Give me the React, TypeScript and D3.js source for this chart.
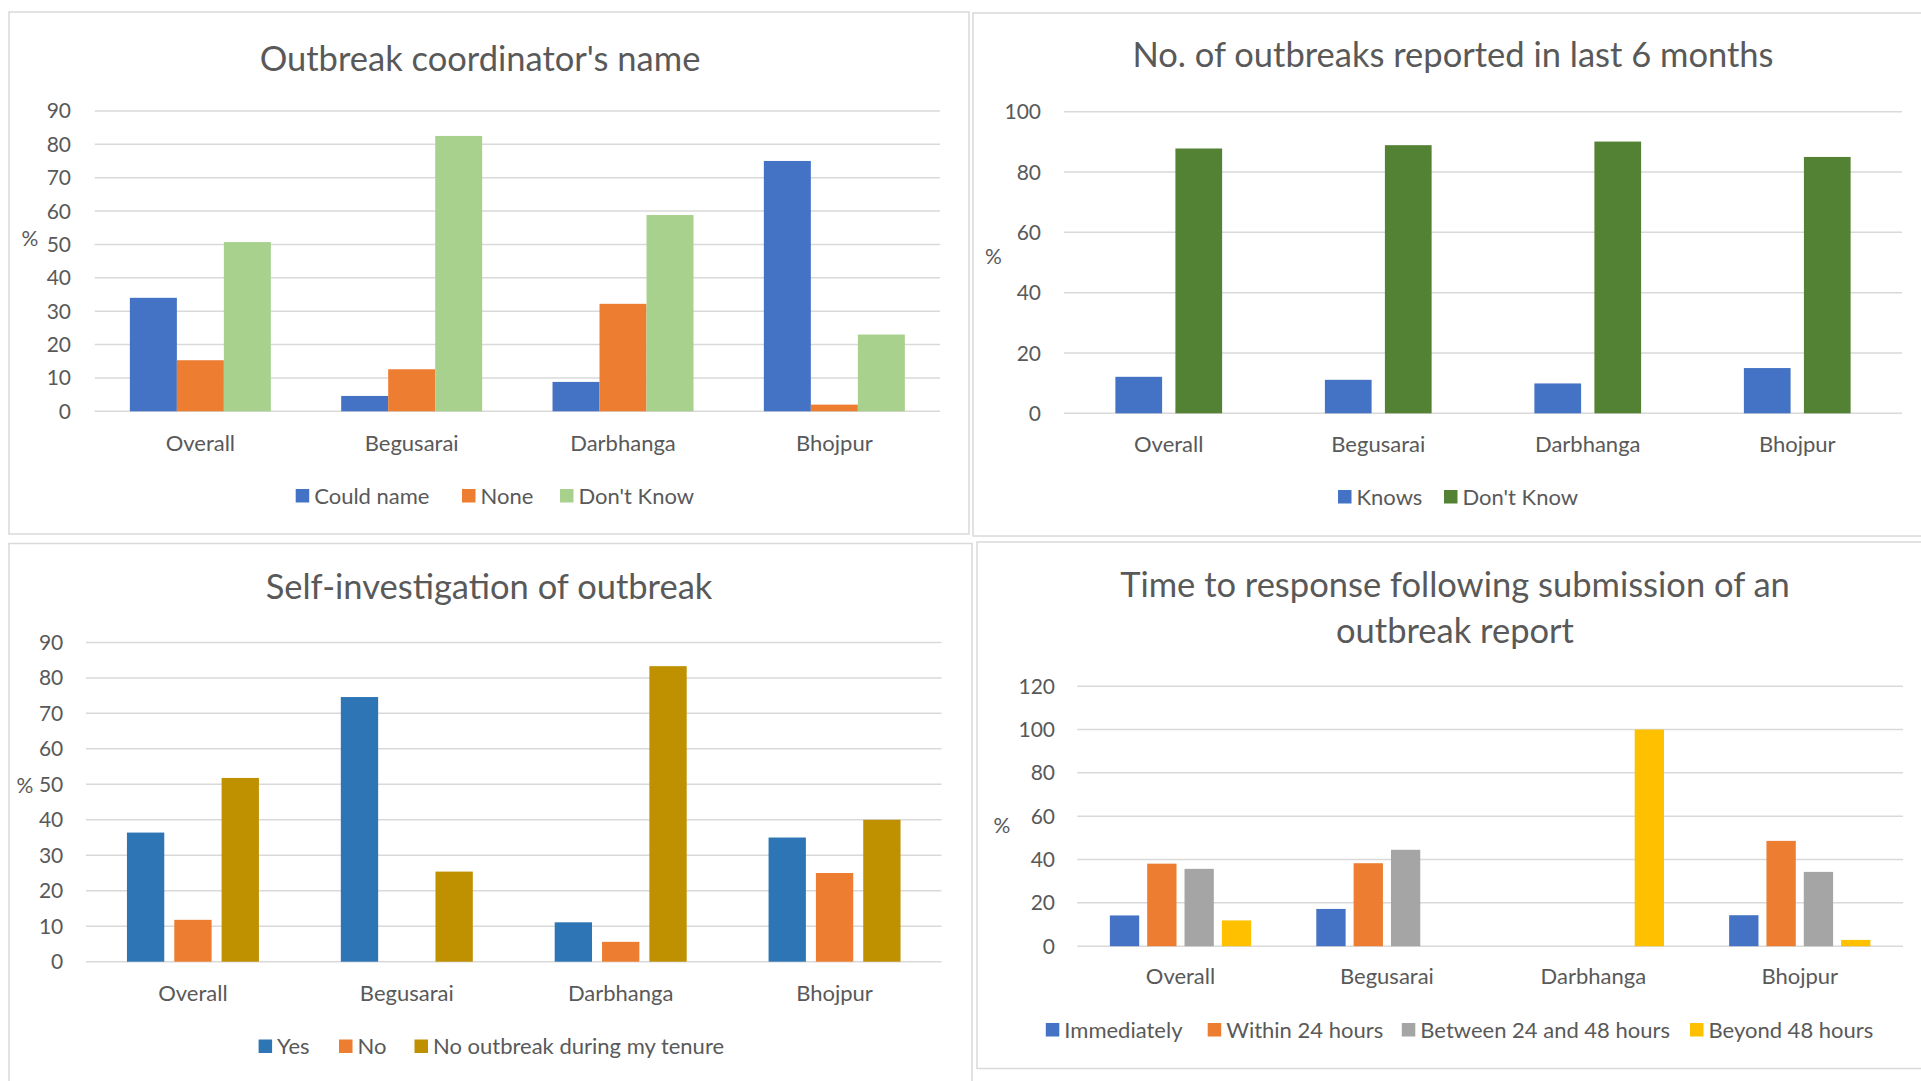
import React from "react";
import * as d3 from "d3";

// ---------- DATA ----------
const categories = ["Overall", "Begusarai", "Darbhanga", "Bhojpur"];

// Panel 1: Outbreak coordinator's name
const coordSeriesNames = ["Could name", "None", "Don't Know"];
const coordCouldName = [34, 4.6, 8.8, 75];
const coordNone = [15.3, 12.6, 32.2, 2];
const coordDontKnow = [50.7, 82.5, 58.8, 23];
const coordTicks = [0, 10, 20, 30, 40, 50, 60, 70, 80, 90];

// Panel 2: No. of outbreaks reported in last 6 months
const reportedSeriesNames = ["Knows", "Don't Know"];
const reportedKnows = [12.1, 11.1, 9.9, 15];
const reportedDontKnow = [87.8, 88.9, 90.1, 85];
const reportedTicks = [0, 20, 40, 60, 80, 100];

// Panel 3: Self-investigation of outbreak
const selfSeriesNames = ["Yes", "No", "No outbreak during my tenure"];
const selfYes = [36.4, 74.6, 11.1, 35];
const selfNo = [11.8, 0, 5.6, 25];
const selfNoOutbreak = [51.8, 25.4, 83.3, 40];
const selfTicks = [0, 10, 20, 30, 40, 50, 60, 70, 80, 90];

// Panel 4: Time to response following submission of an outbreak report
const responseSeriesNames = ["Immediately", "Within 24 hours", "Between 24 and 48 hours", "Beyond 48 hours"];
const respImmediately = [14.2, 17.2, 0, 14.3];
const respWithin24 = [38.1, 38.3, 0, 48.6];
const respBetween = [35.7, 44.5, 0, 34.3];
const respBeyond = [11.9, 0, 100, 2.9];
const responseTicks = [0, 20, 40, 60, 80, 100, 120];

// ---------- STYLE ----------
const FONT = "Lato, 'Open Sans', sans-serif";
const TEXT = "#595959";
const GRID = "#D9D9D9";
const BORDER = "#D9D9D9";

type PanelCfg = {
  border: { x: number; y: number; w: number; h: number };
  titleLines: string[];
  titleX: number;
  titleBaselines: number[];
  plot: { left: number; right: number; top: number; bottom: number };
  ticks: number[];
  tickRight: number;
  pct: { x: number; y: number };
  catBaseline: number;
  legendBaseline: number;
  legendX: number[];
  barFrac: number;
  gapFrac: number;
  names: string[];
  values: number[][];
  colors: string[];
};

const panels: PanelCfg[] = [
  {
    border: { x: 9, y: 12, w: 960, h: 522 },
    titleLines: ["Outbreak coordinator's name"],
    titleX: 480,
    titleBaselines: [70.5],
    plot: { left: 94.7, right: 940, top: 110.9, bottom: 411.3 },
    ticks: coordTicks,
    tickRight: 71,
    pct: { x: 30, y: 238.5 },
    catBaseline: 450.5,
    legendBaseline: 503.5,
    legendX: [295.7, 462, 560],
    barFrac: 0.2224,
    gapFrac: 0,
    names: coordSeriesNames,
    values: [coordCouldName, coordNone, coordDontKnow],
    colors: ["#4472C4", "#ED7D31", "#A9D18E"],
  },
  {
    border: { x: 973, y: 13, w: 962, h: 523 },
    titleLines: ["No. of outbreaks reported in last 6 months"],
    titleX: 1453,
    titleBaselines: [67.2],
    plot: { left: 1064, right: 1902, top: 111.7, bottom: 413.3 },
    ticks: reportedTicks,
    tickRight: 1041,
    pct: { x: 993.5, y: 256.7 },
    catBaseline: 452,
    legendBaseline: 504.5,
    legendX: [1338, 1444],
    barFrac: 0.223,
    gapFrac: 0.0635,
    names: reportedSeriesNames,
    values: [reportedKnows, reportedDontKnow],
    colors: ["#4472C4", "#548235"],
  },
  {
    border: { x: 9, y: 543.5, w: 963, h: 560 },
    titleLines: ["Self-investigation of outbreak"],
    titleX: 489,
    titleBaselines: [599.3],
    plot: { left: 86, right: 941.5, top: 642.4, bottom: 961.7 },
    ticks: selfTicks,
    tickRight: 63.3,
    pct: { x: 25, y: 785.7 },
    catBaseline: 1000.6,
    legendBaseline: 1054,
    legendX: [258.6, 339, 414.5],
    barFrac: 0.1745,
    gapFrac: 0.0468,
    names: selfSeriesNames,
    values: [selfYes, selfNo, selfNoOutbreak],
    colors: ["#2E75B6", "#ED7D31", "#BF9000"],
  },
  {
    border: { x: 977, y: 542, w: 958, h: 526.5 },
    titleLines: ["Time to response following submission of an", "outbreak report"],
    titleX: 1455,
    titleBaselines: [597, 642.8],
    plot: { left: 1077.3, right: 1903, top: 686.2, bottom: 946.2 },
    ticks: responseTicks,
    tickRight: 1055,
    pct: { x: 1002, y: 825.7 },
    catBaseline: 984.4,
    legendBaseline: 1037.5,
    legendX: [1045.8, 1207.7, 1401.8, 1690],
    barFrac: 0.142,
    gapFrac: 0.0388,
    names: responseSeriesNames,
    values: [respImmediately, respWithin24, respBetween, respBeyond],
    colors: ["#4472C4", "#ED7D31", "#A5A5A5", "#FFC000"],
  },
];

const TITLE_SIZE = 34.5;
const TICK_SIZE = 21;
const CAT_SIZE = 22;
const LEG_SIZE = 22;

function Panel({ cfg }: { cfg: PanelCfg }) {
  const { plot } = cfg;
  const yMax = cfg.ticks[cfg.ticks.length - 1];
  const y = d3.scaleLinear().domain([0, yMax]).range([plot.bottom, plot.top]);
  const x0 = d3.scaleBand<string>().domain(categories).range([plot.left, plot.right]).paddingInner(0).paddingOuter(0);
  const band = x0.bandwidth();
  const n = cfg.names.length;
  const w = cfg.barFrac * band;
  const g = cfg.gapFrac * band;
  const step = w + g;
  const pi = g / step;
  const po = (band / step - n + pi) / 2;
  const x1 = d3
    .scaleBand<number>()
    .domain(d3.range(n))
    .range([0, band])
    .paddingInner(pi)
    .paddingOuter(po);

  const swatch = 13.5;
  const textOffset = 18.5;

  return (
    <g>
      <rect
        x={cfg.border.x}
        y={cfg.border.y}
        width={cfg.border.w}
        height={cfg.border.h}
        fill="#FFFFFF"
        stroke={BORDER}
        strokeWidth={1.5}
      />
      {cfg.titleLines.map((t, i) => (
        <text
          key={i}
          x={cfg.titleX}
          y={cfg.titleBaselines[i]}
          textAnchor="middle"
          fontFamily={FONT}
          fontSize={TITLE_SIZE}
          fill={TEXT}
        >
          {t}
        </text>
      ))}
      {cfg.ticks.map((t) => (
        <g key={t}>
          <line x1={plot.left} x2={plot.right} y1={y(t)} y2={y(t)} stroke={GRID} strokeWidth={1.5} />
          <text
            x={cfg.tickRight}
            y={y(t) + TICK_SIZE * 0.36}
            textAnchor="end"
            fontFamily={FONT}
            fontSize={TICK_SIZE}
            fill={TEXT}
          >
            {t}
          </text>
        </g>
      ))}
      <text
        x={cfg.pct.x}
        y={cfg.pct.y + TICK_SIZE * 0.36}
        textAnchor="middle"
        fontFamily={FONT}
        fontSize={TICK_SIZE}
        fill={TEXT}
      >
        %
      </text>
      {categories.map((c, ci) => (
        <g key={c}>
          {cfg.values.map((vals, si) => {
            const v = vals[ci];
            if (!v) return null;
            return (
              <rect
                key={si}
                x={(x0(c) as number) + (x1(si) as number)}
                y={y(v)}
                width={x1.bandwidth()}
                height={y(0) - y(v)}
                fill={cfg.colors[si]}
              />
            );
          })}
          <text
            x={(x0(c) as number) + band / 2}
            y={cfg.catBaseline}
            textAnchor="middle"
            fontFamily={FONT}
            fontSize={CAT_SIZE}
            fill={TEXT}
          >
            {c}
          </text>
        </g>
      ))}
      {cfg.names.map((name, i) => (
        <g key={name}>
          <rect
            x={cfg.legendX[i]}
            y={cfg.legendBaseline - 14.5}
            width={swatch}
            height={swatch}
            fill={cfg.colors[i]}
          />
          <text
            x={cfg.legendX[i] + textOffset}
            y={cfg.legendBaseline}
            fontFamily={FONT}
            fontSize={LEG_SIZE}
            fill={TEXT}
          >
            {name}
          </text>
        </g>
      ))}
    </g>
  );
}

export default function App() {
  return (
    <svg
      width={1921}
      height={1081}
      style={{ position: "absolute", left: 0, top: 0, background: "#FFFFFF" }}
    >
      <rect x={0} y={0} width={1921} height={1081} fill="#FFFFFF" />
      {panels.map((p, i) => (
        <Panel key={i} cfg={p} />
      ))}
    </svg>
  );
}
